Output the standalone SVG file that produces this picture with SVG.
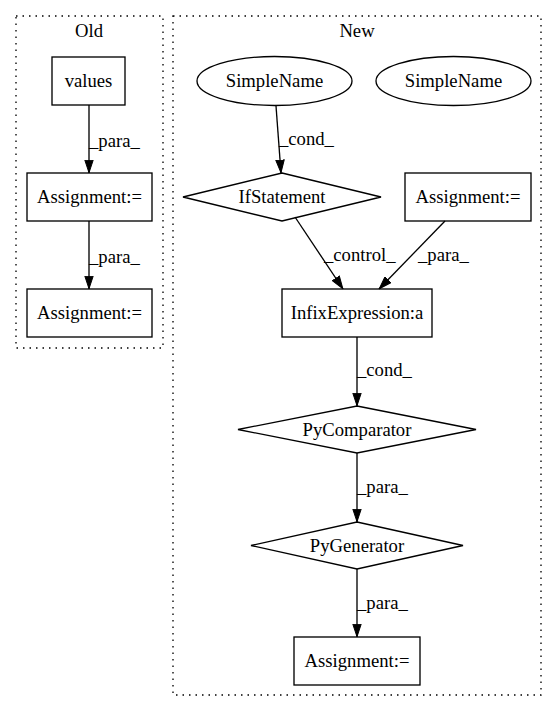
<svg xmlns="http://www.w3.org/2000/svg" width="557" height="712" viewBox="0 0 557 712">
<defs>
<style>
.c{text-anchor:middle}
.node{fill:none;stroke:#000;stroke-width:1.33}
.cluster{fill:none;stroke:#000;stroke-width:1.33;stroke-dasharray:1.5,5}
.edge{fill:none;stroke:#000;stroke-width:1.33}
</style>
<marker id="arr" markerUnits="userSpaceOnUse" markerWidth="13.3" markerHeight="9.4" refX="13.3" refY="4.67" orient="auto" viewBox="0 0 13.3 9.34">
<path d="M0.5,0.5 L13,4.67 L0.5,8.84 z" fill="#000" stroke="#000" stroke-width="1"/>
</marker>
</defs>
<rect width="557" height="712" fill="#fff"/>
<g font-family="'Liberation Serif', 'Times New Roman', Times, serif" font-size="18.67" fill="#000">
<g id="cluster_old">
<rect class="cluster" x="16" y="16" width="147" height="332"/>
<text class="c" x="89" y="37">Old</text>
</g>
<g id="cluster_new">
<rect class="cluster" x="173" y="16" width="368" height="679"/>
<text class="c" x="357" y="37">New</text>
</g>
<g id="edges">
<line class="edge" x1="89" y1="105" x2="89" y2="173" marker-end="url(#arr)"/>
<text x="89" y="147">_para_</text>
<line class="edge" x1="89" y1="221" x2="89" y2="289" marker-end="url(#arr)"/>
<text x="89" y="263">_para_</text>
<line class="edge" x1="276" y1="106" x2="281" y2="173" marker-end="url(#arr)"/>
<text x="279" y="145">_cond_</text>
<line class="edge" x1="295" y1="217" x2="343" y2="289" marker-end="url(#arr)"/>
<text x="324" y="261">_control_</text>
<line class="edge" x1="445" y1="221" x2="379" y2="289" marker-end="url(#arr)"/>
<text x="418" y="261">_para_</text>
<line class="edge" x1="357" y1="337" x2="357" y2="406" marker-end="url(#arr)"/>
<text x="357" y="376">_cond_</text>
<line class="edge" x1="357" y1="453" x2="357" y2="522" marker-end="url(#arr)"/>
<text x="357" y="493">_para_</text>
<line class="edge" x1="357" y1="569" x2="357" y2="637" marker-end="url(#arr)"/>
<text x="357" y="609">_para_</text>
</g>
<g id="values">
<rect class="node" x="52" y="57" width="73" height="48"/>
<text class="c" x="88.5" y="87">values</text>
</g>
<g id="old_assign1">
<rect class="node" x="27" y="173" width="125" height="48"/>
<text class="c" x="89.5" y="203">Assignment:=</text>
</g>
<g id="old_assign2">
<rect class="node" x="27" y="289" width="125" height="48"/>
<text class="c" x="89.5" y="319">Assignment:=</text>
</g>
<g id="simplename1">
<ellipse class="node" cx="274.5" cy="81" rx="77.5" ry="24.5"/>
<text class="c" x="274.5" y="87">SimpleName</text>
</g>
<g id="simplename2">
<ellipse class="node" cx="453.5" cy="81" rx="77.5" ry="24.5"/>
<text class="c" x="453.5" y="87">SimpleName</text>
</g>
<g id="ifstatement">
<polygon class="node" points="282,173 381,197 282,221 183,197"/>
<text class="c" x="282" y="203">IfStatement</text>
</g>
<g id="new_assign1">
<rect class="node" x="405" y="173" width="126" height="48"/>
<text class="c" x="468" y="203">Assignment:=</text>
</g>
<g id="infix">
<rect class="node" x="282" y="289" width="150" height="48"/>
<text class="c" x="357" y="319">InfixExpression:a</text>
</g>
<g id="pycomparator">
<polygon class="node" points="357,406 476,429.5 357,453 238,429.5"/>
<text class="c" x="357" y="435.5">PyComparator</text>
</g>
<g id="pygenerator">
<polygon class="node" points="357,522 463,545.5 357,569 251,545.5"/>
<text class="c" x="357" y="551.5">PyGenerator</text>
</g>
<g id="new_assign2">
<rect class="node" x="294" y="637" width="126" height="48"/>
<text class="c" x="357" y="667">Assignment:=</text>
</g>
</g>
</svg>
